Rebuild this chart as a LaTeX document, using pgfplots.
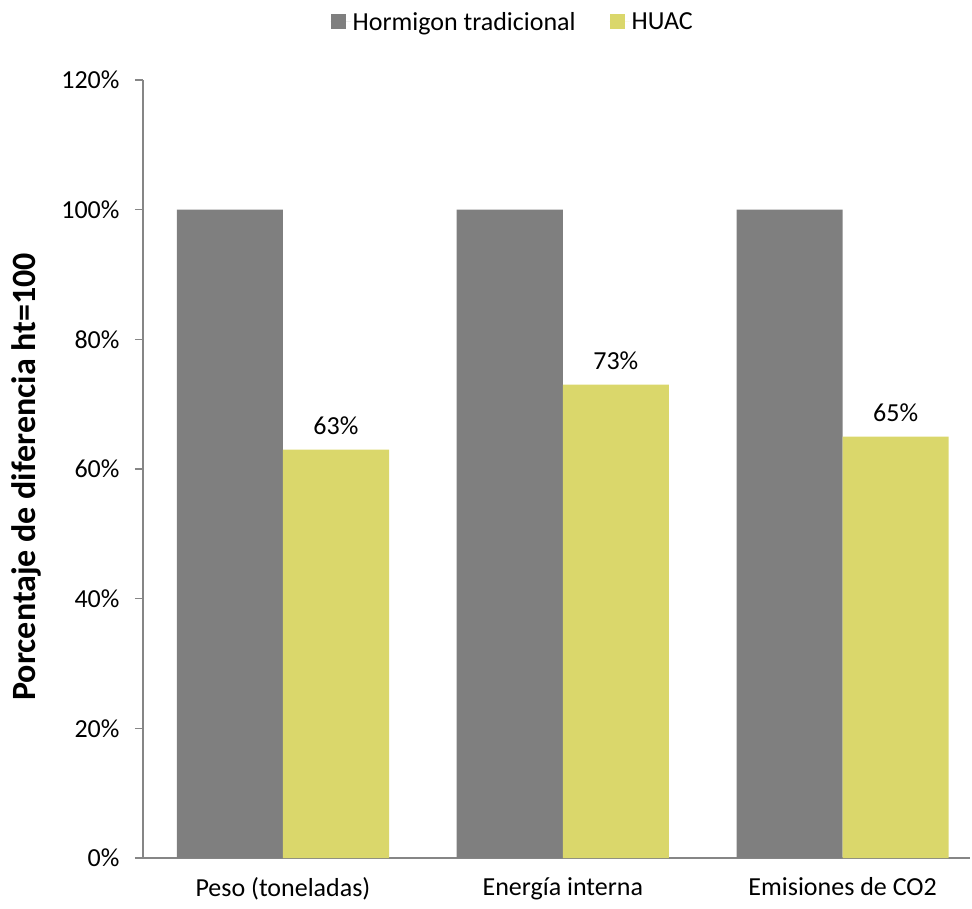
\documentclass[border=0pt]{standalone}
\usepackage{pgfplots}
\pgfplotsset{compat=1.18}
\usepackage{fontspec}
\setmainfont{Carlito}
\definecolor{htgray}{HTML}{7F7F7F}
\definecolor{huacyel}{HTML}{DAD76B}
\definecolor{axgray}{HTML}{868686}
\newcommand{\lblfont}{\fontsize{26}{31}\selectfont}
\begin{document}
\begin{tikzpicture}[x=1pt,y=1pt]
\useasboundingbox (-143,-50) rectangle (829,858);
\begin{axis}[
  at={(0,0)}, anchor=south west,
  scale only axis, width=827pt, height=778pt,
  ymin=0, ymax=120, ytick={0,20,...,120},
  xmin=-0.5, xmax=2.455,
  xtick={0,1,2},
  xticklabels={Peso (toneladas),Energía interna,Emisiones de CO2},
  xtick style={draw=none},
  axis x line*=bottom, axis y line*=left,
  axis line style={axgray, line width=1.4pt, -},
  ytick style={axgray, line width=1.4pt},
  tick align=outside, major tick length=8pt,
  yticklabel={\pgfmathprintnumber{\tick}\%},
  /pgf/number format/assume math mode=true,
  tick label style={font=\lblfont},
  yticklabel style={xshift=-12pt},
  xticklabel style={yshift=-8pt},
  ylabel={\bfseries Porcentaje de diferencia ht=100},
  ylabel style={font=\fontsize{34}{40}\selectfont,
    at={(rel axis cs:-0.1415,0.49)}, anchor=center},
  ybar, bar width=0.379,
  legend style={at={(rel axis cs:0.447,1.0746)}, anchor=center, draw=none,
    legend columns=2, font=\lblfont,
    /tikz/every even column/.append style={column sep=32pt}},
  legend image code/.code={%
    \fill[#1] (0pt,-7.5pt) rectangle (15pt,7.5pt);
    \path (0pt,0pt) -- (20pt,0pt);},
]
\addplot[fill=htgray, draw=none, bar shift=-0.1895] coordinates {(0,100) (1,100) (2,100)};
\addlegendentry{Hormigon tradicional}
\addplot[fill=huacyel, draw=none, bar shift=0.1895,
  nodes near coords={\pgfmathprintnumber{\pgfplotspointmeta}\%},
  nodes near coords style={font=\lblfont, yshift=11pt, text=black}]
  coordinates {(0,63) (1,73) (2,65)};
\addlegendentry{HUAC}
\end{axis}
\end{tikzpicture}
\end{document}
